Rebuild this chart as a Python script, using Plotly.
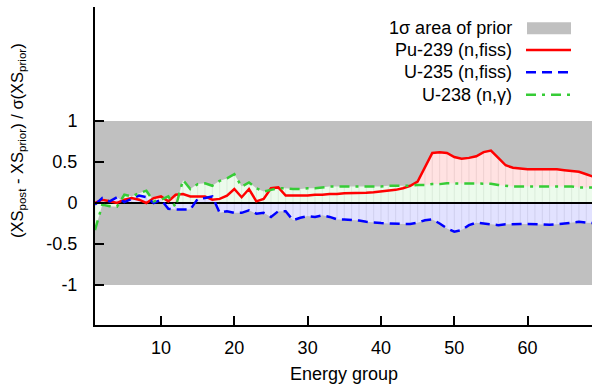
import plotly.graph_objects as go

# Energy groups and posterior shifts in units of the prior standard deviation
groups = list(range(1, 70))

pu239_fiss = [
    0.00, 0.04, 0.02, 0.00, 0.04, 0.06, 0.04, 0.00, 0.06, 0.08,
    0.02, 0.10, 0.11, 0.08, 0.08, 0.08, 0.04, 0.05, 0.09, 0.17,
    0.07, 0.17, 0.02, 0.05, 0.18, 0.19, 0.09, 0.09, 0.09, 0.09,
    0.10, 0.10, 0.11, 0.11, 0.12, 0.12, 0.12, 0.125, 0.13, 0.14,
    0.15, 0.16, 0.18, 0.21, 0.26, 0.44, 0.61, 0.62, 0.61, 0.56,
    0.54, 0.55, 0.57, 0.62, 0.64, 0.55, 0.46, 0.43, 0.42, 0.41,
    0.41, 0.41, 0.41, 0.41, 0.40, 0.39, 0.38, 0.35, 0.32,
]

u235_fiss = [
    -0.02, 0.06, 0.02, 0.07, 0.01, 0.05, 0.09, 0.07, 0.00, 0.04,
    -0.07, -0.08, -0.08, -0.08, 0.05, 0.06, 0.08, -0.12, -0.10, -0.12,
    -0.12, -0.09, -0.13, -0.12, -0.17, -0.10, -0.10, -0.21, -0.18, -0.16,
    -0.17, -0.15, -0.17, -0.20, -0.20, -0.205, -0.215, -0.23, -0.24, -0.245,
    -0.25, -0.255, -0.255, -0.255, -0.24, -0.21, -0.20, -0.25, -0.31, -0.35,
    -0.33, -0.27, -0.24, -0.25, -0.26, -0.27, -0.26, -0.255, -0.255, -0.255,
    -0.26, -0.265, -0.265, -0.26, -0.25, -0.24, -0.23, -0.24, -0.245,
]

u238_capture = [
    -0.33, -0.02, -0.04, -0.045, 0.10, 0.08, 0.12, 0.15, 0.02, 0.04,
    0.08, -0.05, 0.28, 0.17, 0.23, 0.24, 0.21, 0.27, 0.30, 0.35,
    0.20, 0.25, 0.18, 0.14, 0.16, 0.18, 0.18, 0.17, 0.17, 0.18,
    0.18, 0.19, 0.20, 0.20, 0.20, 0.20, 0.20, 0.20, 0.20, 0.20,
    0.21, 0.21, 0.21, 0.21, 0.22, 0.22, 0.23, 0.23, 0.24, 0.24,
    0.24, 0.24, 0.24, 0.24, 0.235, 0.22, 0.21, 0.20, 0.20, 0.20,
    0.20, 0.20, 0.20, 0.20, 0.20, 0.20, 0.19, 0.19, 0.19,
]

prior_band = [-1, 1]
x_ticks = [10, 20, 30, 40, 50, 60]
y_ticks = [-1, -0.5, 0, 0.5, 1]
y_tick_text = ["-1", "-0.5", "0", "0.5", "1"]
x_range = [1, 68.78]
y_range = [-1.488, 2.39]

series = [
    ("Pu-239 (n,fiss)", pu239_fiss, "#ff0000", "solid", "#ffe2e2", "rgba(150,120,120,0.16)"),
    ("U-235 (n,fiss)", u235_fiss, "#0000ff", "10px,6px", "#e2e2ff", "rgba(120,120,150,0.16)"),
    ("U-238 (n,&#947;)", u238_capture, "#36cc36", "10px,6px,3px,6px", "#ecfbec", "rgba(120,150,120,0.14)"),
]

W, H = 592, 385
ML, MR, MT, MB = 95, 0, 7, 60
FONT = "Liberation Sans, Arial, sans-serif"


def px(x):
    return (x - ML) / (W - ML - MR)


def py(y):
    return (H - MB - y) / (H - MB - MT)


fig = go.Figure()

# filled areas between each curve and zero, with a faint stroke at every group
fill_order = [0, 2, 1]
for i in fill_order:
    name, vals, color, dash, fillc, stroke = series[i]
    fig.add_trace(go.Scatter(
        x=groups, y=vals, mode="lines", line=dict(width=0),
        fill="tozeroy", fillcolor=fillc, showlegend=False, hoverinfo="skip"))
    ix, iy = [], []
    for g, v in zip(groups, vals):
        ix += [g, g, None]
        iy += [0, v, None]
    fig.add_trace(go.Scatter(
        x=ix, y=iy, mode="lines", line=dict(width=1, color=stroke),
        showlegend=False, hoverinfo="skip"))

# zero axis
fig.add_trace(go.Scatter(
    x=[groups[0], groups[-1]], y=[0, 0], mode="lines",
    line=dict(color="black", width=2), showlegend=False, hoverinfo="skip"))

for name, vals, color, dash, fillc, stroke in series:
    fig.add_trace(go.Scatter(
        x=groups, y=vals, mode="lines", name=name,
        line=dict(color=color, width=2.5, dash=dash), showlegend=False))

shapes = [
    dict(type="rect", xref="paper", yref="y", x0=0, x1=1,
         y0=prior_band[0], y1=prior_band[1], fillcolor="#c0c0c0",
         line=dict(width=0), layer="below"),
]

annotations = []

# key, text right-aligned with the sample to its right
rows = [28.2, 50.0, 72.3, 94.8]
labels = ["1&#963; area of prior"] + [s[0] for s in series]
for k, (ry, lab) in enumerate(zip(rows, labels)):
    annotations.append(dict(
        x=px(514), y=py(ry), xref="paper", yref="paper", text=lab,
        showarrow=False, xanchor="right", yanchor="middle",
        font=dict(family=FONT, size=18, color="black")))
    if k == 0:
        shapes.append(dict(type="rect", xref="paper", yref="paper",
                           x0=px(527), x1=px(571), y0=py(ry + 6), y1=py(ry - 6),
                           fillcolor="#c0c0c0", line=dict(width=0)))
    else:
        _, _, color, dash, _, _ = series[k - 1]
        shapes.append(dict(type="line", xref="paper", yref="paper",
                           x0=px(526), x1=px(571), y0=py(ry), y1=py(ry),
                           line=dict(color=color, width=2.5, dash=dash)))

annotations.append(dict(
    x=px(344), y=py(374), xref="paper", yref="paper", text="Energy group",
    showarrow=False, xanchor="center", yanchor="middle",
    font=dict(family=FONT, size=18, color="black")))
annotations.append(dict(
    x=px(18), y=py(141), xref="paper", yref="paper",
    text="(XS<sub>post</sub> - XS<sub>prior</sub>) / &#963;(XS<sub>prior</sub>)",
    textangle=-90, showarrow=False, xanchor="center", yanchor="middle",
    font=dict(family=FONT, size=16.5, color="black")))

axis_common = dict(ticks="inside", ticklen=9, tickwidth=1.5, tickcolor="black",
                   showgrid=False, zeroline=False, layer="above traces")

fig.update_layout(
    width=W, height=H,
    margin=dict(l=ML, r=MR, t=MT, b=MB, pad=0),
    paper_bgcolor="white", plot_bgcolor="white",
    font=dict(family=FONT, size=18, color="black"),
    showlegend=False,
    shapes=shapes, annotations=annotations,
    xaxis=dict(range=x_range, tickvals=x_ticks, showline=True, linewidth=2,
               linecolor="black", ticklabelstandoff=5, **axis_common),
    xaxis2=dict(range=x_range, overlaying="x", side="top", matches="x",
                tickvals=x_ticks, showticklabels=False, showline=True,
                linewidth=2, linecolor="black", **axis_common),
    yaxis=dict(range=y_range, tickvals=y_ticks, ticktext=y_tick_text,
               showline=True, linewidth=2, linecolor="black",
               ticklabelstandoff=12, **axis_common),
    yaxis2=dict(range=y_range, overlaying="y", side="right", matches="y",
                tickvals=y_ticks, showticklabels=False, showline=False,
                **axis_common),
)

fig.write_html("out.html")
